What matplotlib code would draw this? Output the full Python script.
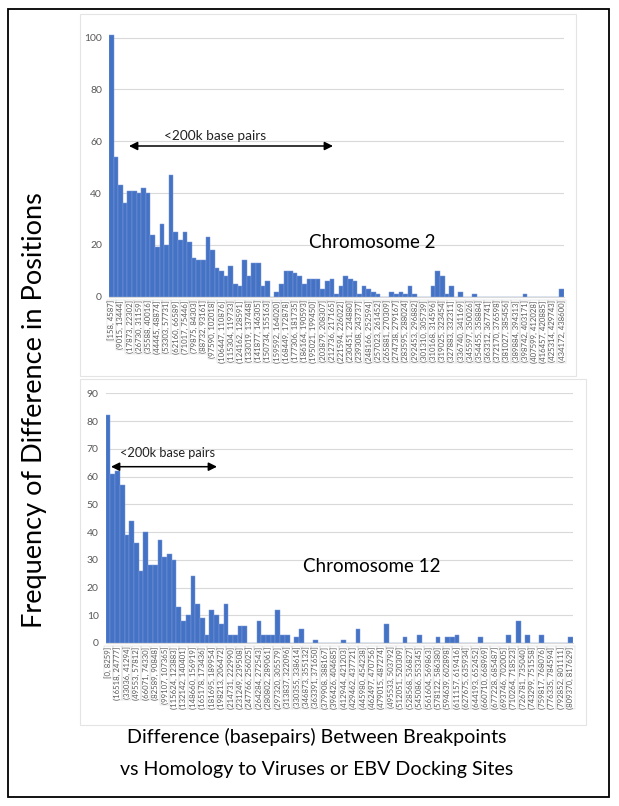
import matplotlib
matplotlib.use('Agg')
import matplotlib.pyplot as plt
from matplotlib.patches import Rectangle, FancyArrowPatch

# ---------------- data ----------------
chr2_labels = ["[158, 4587]", "(9015, 13444]", "(17873, 22302]", "(26730, 31159]", "(35588, 40016]",
               "(44445, 48874]", "(53303, 57731]", "(62160, 66589]", "(71017, 75446]", "(79875, 84303]",
               "(88732, 93161]", "(97590, 102018]", "(106447, 110876]", "(115304, 119733]", "(124162, 128591]",
               "(133019, 137448]", "(141877, 146305]", "(150734, 155163]", "(159592, 164020]", "(168449, 172878]",
               "(177306, 181735]", "(186164, 190593]", "(195021, 199450]", "(203879, 208307]", "(212736, 217165]",
               "(221594, 226022]", "(230451, 234880]", "(239308, 243737]", "(248166, 252594]", "(257023, 261452]",
               "(265881, 270309]", "(274738, 279167]", "(283595, 288024]", "(292453, 296882]", "(301310, 305739]",
               "(310168, 314596]", "(319025, 323454]", "(327883, 332311]", "(336740, 341169]", "(345597, 350026]",
               "(354455, 358884]", "(363312, 367741]", "(372170, 376598]", "(381027, 385456]", "(389884, 394313]",
               "(398742, 403171]", "(407599, 412028]", "(416457, 420885]", "(425314, 429743]", "(434172, 438600]"]

chr2_counts = [101, 54, 43, 36, 41, 41, 40, 42, 40, 24,
               19, 28, 20, 47, 25, 22, 25, 21, 15, 14,
               14, 23, 18, 11, 10, 8, 12, 5, 4, 14,
               8, 13, 13, 4, 6, 0, 2, 5, 10, 10,
               9, 8, 5, 7, 7, 7, 3, 6, 7, 1,
               4, 8, 7, 6, 1, 4, 3, 2, 1, 0,
               0, 2, 1, 2, 1, 4, 1, 0, 0, 0,
               4, 10, 8, 1, 4, 0, 2, 0, 0, 1,
               0, 0, 0, 0, 0, 0, 0, 0, 0, 0,
               1, 0, 0, 0, 0, 0, 0, 0, 3]

chr12_labels = ["[0, 8259]", "(16518, 24777]", "(33036, 41294]", "(49553, 57812]", "(66071, 74330]",
                "(82589, 90848]", "(99107, 107365]", "(115624, 123883]", "(132142, 140401]", "(148660, 156919]",
                "(165178, 173436]", "(181695, 189954]", "(198213, 206472]", "(214731, 222990]", "(231249, 239508]",
                "(247766, 256025]", "(264284, 272543]", "(280802, 289061]", "(297320, 305579]", "(313837, 322096]",
                "(330355, 338614]", "(346873, 355132]", "(363391, 371650]", "(379908, 388167]", "(396426, 404685]",
                "(412944, 421203]", "(429462, 437721]", "(445980, 454238]", "(462497, 470756]", "(479015, 487274]",
                "(495533, 503792]", "(512051, 520309]", "(528568, 536827]", "(545086, 553345]", "(561604, 569863]",
                "(578122, 586380]", "(594639, 602898]", "(611157, 619416]", "(627675, 635934]", "(644193, 652452]",
                "(660710, 668969]", "(677228, 685487]", "(693746, 702005]", "(710264, 718523]", "(726781, 735040]",
                "(743299, 751558]", "(759817, 768076]", "(776335, 784594]", "(792852, 801111]", "(809370, 817629]"]

chr12_counts = [82, 61, 62, 57, 39, 44, 36, 26, 40, 28,
                28, 37, 31, 32, 30, 13, 8, 10, 24, 14,
                9, 3, 12, 10, 7, 14, 3, 3, 6, 6,
                0, 0, 8, 3, 3, 3, 12, 3, 3, 0,
                2, 5, 0, 0, 1, 0, 0, 0, 0, 0,
                1, 0, 0, 5, 0, 0, 0, 0, 0, 7,
                0, 0, 0, 2, 0, 0, 3, 0, 0, 0,
                2, 0, 2, 2, 3, 0, 0, 0, 0, 2,
                0, 0, 0, 0, 0, 3, 0, 8, 0, 3,
                0, 0, 3, 0, 0, 0, 0, 0, 2]

chr2_yticks = [0, 20, 40, 60, 80, 100]
chr12_yticks = [0, 10, 20, 30, 40, 50, 60, 70, 80, 90]

# ---------------- style ----------------
plt.rcParams['font.family'] = ['Lato', 'DejaVu Sans']
W, H = 619, 806
BLUE = '#4472C4'
GRID = '#d9d9d9'
TICK = '#595959'

fig = plt.figure(figsize=(W / 100, H / 100), dpi=100)


def fx(x):
    return x / W


def fy(y):
    return 1 - y / H


# outer black frame
fig.patches.append(Rectangle((fx(8), fy(797)), fx(609) - fx(8), (797 - 9) / H,
                             transform=fig.transFigure, fill=False, ec='black', lw=1.3))
# chart area boxes
fig.patches.append(Rectangle((fx(80), fy(376)), fx(576) - fx(80), (376 - 14) / H,
                             transform=fig.transFigure, fill=False, ec='#e4e4e4', lw=0.8))
fig.patches.append(Rectangle((fx(80), fy(725)), fx(586) - fx(80), (725 - 379) / H,
                             transform=fig.transFigure, fill=False, ec='#e4e4e4', lw=0.8))


def style_axis(ax, counts, labels, yticks, ytop):
    x = list(range(len(counts)))
    ax.bar(x, counts, width=1.0, color=BLUE, edgecolor='#7c9bd6', linewidth=0.35, zorder=2)
    ax.set_xlim(-0.5, len(counts) - 0.5)
    ax.set_ylim(0, ytop)
    ax.set_yticks(yticks)
    ax.set_yticklabels([str(t) for t in yticks], fontsize=7.5, color=TICK)
    ax.yaxis.grid(True, color=GRID, lw=0.8, zorder=0)
    ax.set_axisbelow(True)
    for s in ['top', 'right', 'left']:
        ax.spines[s].set_visible(False)
    ax.spines['bottom'].set_color(GRID)
    ax.spines['bottom'].set_linewidth(0.8)
    ax.set_xticks(x[::2])
    ax.set_xticklabels(labels, rotation=90, fontsize=5.6, color=TICK,
                       bbox=dict(boxstyle='square,pad=0.08', fc='none', ec='#cccccc', lw=0.3))
    ax.tick_params(axis='both', length=0)
    ax.tick_params(axis='y', pad=5)
    ax.tick_params(axis='x', pad=2.5)
    ax.set_facecolor('none')


ax1 = fig.add_axes([fx(109), fy(296.7), fx(564) - fx(109), (296.7 - 32.5) / H])
style_axis(ax1, chr2_counts, chr2_labels, chr2_yticks, 102)

ax2 = fig.add_axes([fx(105.7), fy(643), fx(572.5) - fx(105.7), (643 - 393.3) / H])
style_axis(ax2, chr12_counts, chr12_labels, chr12_yticks, 90)

# annotations
fig.text(fx(372), fy(243), "Chromosome 2", fontsize=13.5, ha='center', va='center', color='black')
fig.text(fx(372), fy(567), "Chromosome 12", fontsize=13.5, ha='center', va='center', color='black')

fig.text(fx(215.5), fy(136.5), "<200k base pairs", fontsize=9.8, ha='center', va='center', color='#222222')
fig.text(fx(167.5), fy(453), "<200k base pairs", fontsize=9.2, ha='center', va='center', color='#222222')

for (x0, x1, y) in [(129, 333, 146), (111, 217, 466.7)]:
    arr = FancyArrowPatch((fx(x0), fy(y)), (fx(x1), fy(y)), transform=fig.transFigure,
                          arrowstyle='<|-|>,head_length=5,head_width=2.5', color='black', lw=1.1,
                          shrinkA=0, shrinkB=0)
    fig.patches.append(arr)

fig.text(fx(35), fy(410), "Frequency of Difference in Positions", fontsize=19.5, rotation=90,
         ha='center', va='center', color='black')
fig.text(fx(317), fy(737), "Difference (basepairs) Between Breakpoints", fontsize=14.1,
         ha='center', va='center', color='black')
fig.text(fx(317), fy(769), "vs Homology to Viruses or EBV Docking Sites", fontsize=14.1,
         ha='center', va='center', color='black')

fig.savefig('out.png', dpi=100)
